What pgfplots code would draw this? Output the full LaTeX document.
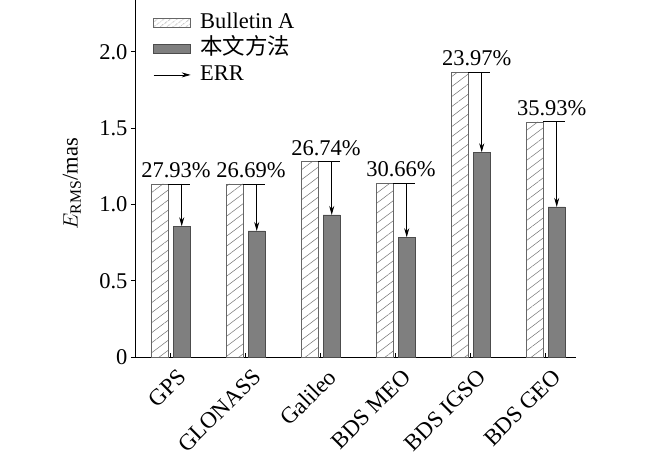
\documentclass[border=0pt]{standalone}
\usepackage{pgfplots}
\pgfplotsset{compat=1.18}
\usepackage{fontspec}
\setmainfont{Liberation Serif}
\newfontfamily\cjk{Noto Sans CJK SC}
\usetikzlibrary{patterns.meta,arrows.meta}
\definecolor{bargray}{HTML}{7F7F7F}
\pgfplotsset{
  hatchleg/.style={legend image code/.code={\draw[draw=gray!80!black, line width=0.6pt, pattern={Lines[angle=37, distance=4pt, line width=0.4pt]}, pattern color=gray!90!black] (0pt,-4.5pt) rectangle (37pt,4.5pt);}},
  grayleg/.style={legend image code/.code={\draw[draw=black!70, fill=bargray, line width=0.6pt] (0pt,-4.5pt) rectangle (37pt,4.5pt);}},
  arrleg/.style={legend image code/.code={\draw[black, line width=0.8pt, -{Stealth[length=9pt,width=5pt]}] (0pt,0pt) -- (37pt,0pt);}},
}
\begin{document}
\begin{tikzpicture}
\pgfplotstableread{
x a b
0 1.134 0.857
1 1.134 0.826
2 1.281 0.931
3 1.139 0.785
4 1.867 1.342
5 1.541 0.984
}\data
\pgfplotstableread{
x y u v
0.147 1.134 0 -0.277
1.147 1.134 0 -0.308
2.147 1.281 0 -0.350
3.147 1.139 0 -0.354
4.147 1.867 0 -0.525
5.147 1.541 0 -0.557
}\arrtab
\pgfplotstableread{
x y u v
-0.036 1.134 0.293 0
0.964 1.134 0.293 0
1.964 1.281 0.293 0
2.964 1.139 0.293 0
3.964 1.867 0.293 0
4.964 1.541 0.293 0
}\captab
\begin{axis}[
  at={(0pt,0pt)}, anchor=south west,
  scale only axis, width=441pt, height=357pt,
  xmin=-0.476, xmax=5.404, ymin=0, ymax=2.34,
  axis x line*=bottom, axis y line*=left,
  axis line style={line width=0.8pt},
  xtick={0,1,2,3,4,5},
  xticklabels={GPS,GLONASS,Galileo,BDS MEO,BDS IGSO,BDS GEO},
  x tick label style={rotate=45, anchor=north east, font=\rmfamily\fontsize{23}{26}\selectfont, xshift=0pt, yshift=-8pt},
  ytick={0,0.5,1.0,1.5,2.0},
  yticklabels={0,0.5,1.0,1.5,2.0},
  y tick label style={font=\rmfamily\fontsize{22.5}{26}\selectfont},
  /pgf/number format/assume math mode=true,
  x tick style={line width=0.8pt},
  xtick align=inside,
  y tick style={line width=0.8pt},
  ytick align=outside,
  tick style={black},
  major tick length=4pt,
  ylabel={$E_{\mathrm{RMS}}$/mas},
  ylabel style={at={(axis description cs:-0.143,0.486)}, anchor=center, font=\rmfamily\fontsize{22.5}{26}\selectfont},
  legend style={at={(axis description cs:0.041,0.963)}, anchor=north west, draw=none, fill=none,
    font=\rmfamily\fontsize{22.5}{26}\selectfont, row sep=7pt, inner sep=0pt,
    nodes={inner sep=0pt, text height=15pt, text depth=4pt},
    /tikz/every odd column/.append style={column sep=9pt}},
  legend cell align=left,
  clip=false,
]
\addplot[ybar, bar width=17pt, bar shift=-11pt, draw=gray!80!black, line width=0.6pt,
  pattern={Lines[angle=37, distance=8pt, line width=0.5pt]}, pattern color=gray!90!black, hatchleg]
  table[x=x, y=a] {\data};
\addlegendentry{Bulletin A}
\addplot[ybar, bar width=17pt, bar shift=11pt, draw=black!70, fill=bargray, line width=0.6pt, grayleg]
  table[x=x, y=b] {\data};
\addlegendentry{{\cjk 本文方法}}
\addplot[quiver={u=\thisrow{u}, v=\thisrow{v}}, black, line width=0.8pt, -{Stealth[length=9pt,width=5pt]}, arrleg]
  table[x=x, y=y] {\arrtab};
\addlegendentry{ERR}
\addplot[quiver={u=\thisrow{u}, v=\thisrow{v}}, black, line width=0.8pt, forget plot]
  table[x=x, y=y] {\captab};
\tikzset{pct/.style={anchor=south, font=\rmfamily\fontsize{22.5}{26}\selectfont, inner sep=0pt, yshift=6pt}}
\node[pct] at (axis cs:0.07,1.134) {27.93\%};
\node[pct] at (axis cs:1.07,1.134) {26.69\%};
\node[pct] at (axis cs:2.07,1.281) {26.74\%};
\node[pct] at (axis cs:3.07,1.139) {30.66\%};
\node[pct] at (axis cs:4.08,1.867) {23.97\%};
\node[pct] at (axis cs:5.08,1.541) {35.93\%};
\end{axis}
\pgfresetboundingbox
\useasboundingbox (-135pt,-100pt) rectangle (515pt,357pt);
\end{tikzpicture}
\end{document}
